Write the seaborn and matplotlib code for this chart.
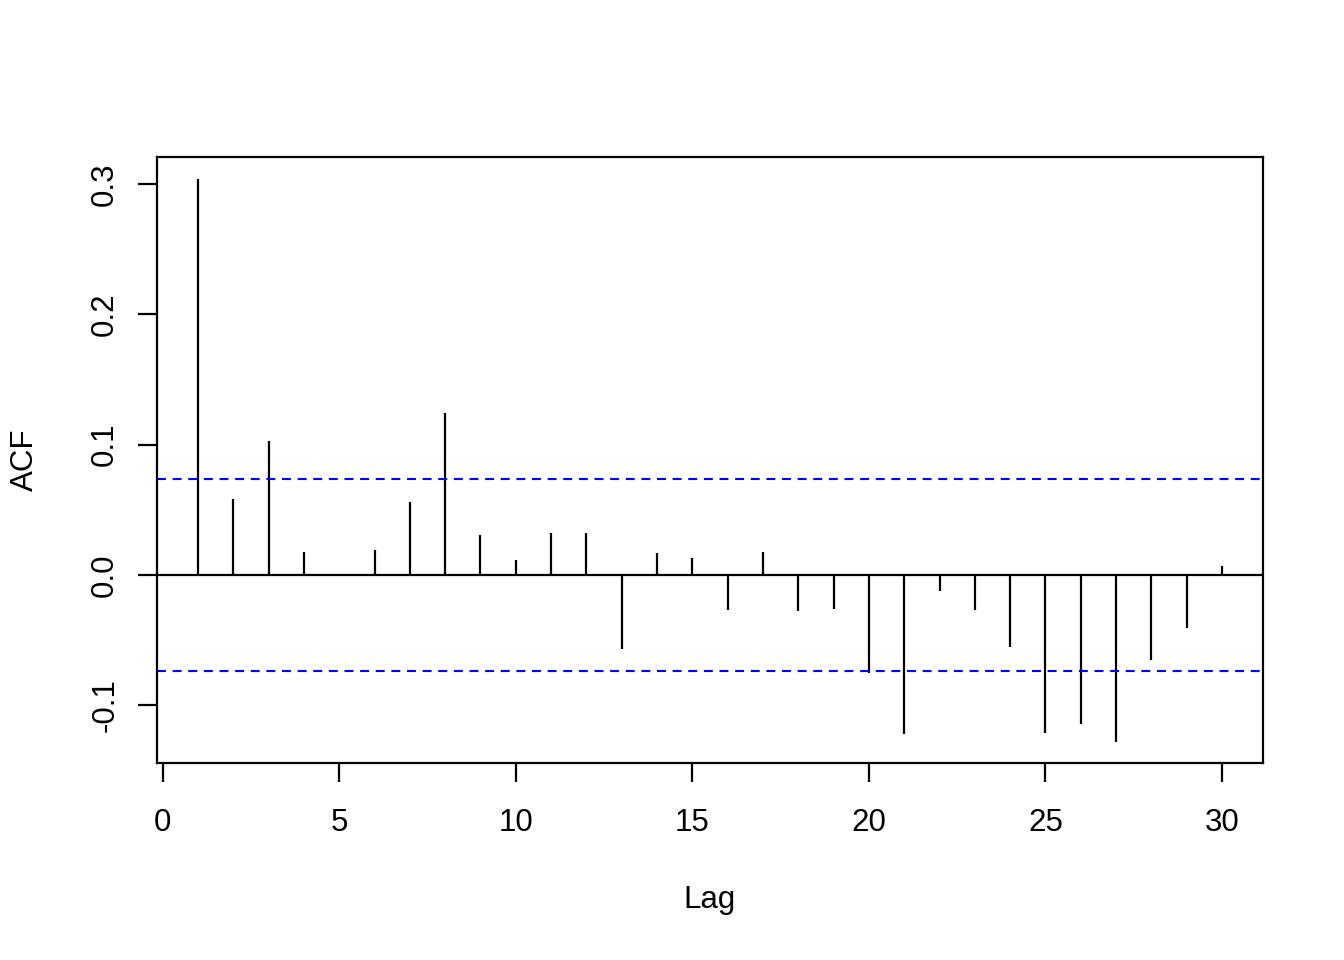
import numpy as np
import pandas as pd
import seaborn as sns
import matplotlib.pyplot as plt

# ACF values (lags 1..30)
lags = list(range(1, 31))
acf_vals = [0.304, 0.058, 0.103, 0.018, 0.001, 0.019, 0.056, 0.124, 0.031, 0.0115,
            0.032, 0.032, -0.057, 0.017, 0.013, -0.027, 0.018, -0.028, -0.026, -0.075,
            -0.122, -0.012, -0.027, -0.055, -0.121, -0.114, -0.128, -0.065, -0.041, 0.007]
ci = 0.0737
x_ticks = [0, 5, 10, 15, 20, 25, 30]
y_ticks = [-0.1, 0.0, 0.1, 0.2, 0.3]

df = pd.DataFrame({"Lag": lags, "ACF": acf_vals})

sns.set_theme(style="ticks")
plt.rcParams['font.family'] = ['Liberation Sans', 'DejaVu Sans']
plt.rcParams['text.color'] = 'black'

fig = plt.figure(figsize=(13.44, 9.6), dpi=100)
ax = fig.add_axes([157 / 1344, 1 - 763 / 960, (1263 - 157) / 1344, (763 - 157) / 960])

# stems
ax.vlines(df["Lag"], 0, df["ACF"], color="black", linewidth=1.6)
ax.axhline(0, color="black", linewidth=1.6)
# confidence band
for c in (ci, -ci):
    ax.axhline(c, color="blue", linewidth=1.5, linestyle=(0, (4.3, 3.2)))

ax.set_xlim(-0.16, 31.16)
ax.set_ylim(-0.1443, 0.3208)
ax.set_xticks(x_ticks)
ax.set_xticklabels([str(t) for t in x_ticks])
ax.set_yticks(y_ticks)
ax.set_yticklabels(["-0.1", "0.0", "0.1", "0.2", "0.3"])

for s in ax.spines.values():
    s.set_linewidth(1.6)
    s.set_color("black")
    s.set_visible(True)

ax.tick_params(axis="both", direction="out", length=13.5, width=1.6,
               color="black", labelsize=22.5, labelcolor="black")
ax.tick_params(axis="x", pad=19)
ax.tick_params(axis="y", pad=13)
plt.setp(ax.get_yticklabels(), rotation=90, va="center")

fig.text(710 / 1344, 1 - 900 / 960, "Lag", fontsize=22.5, ha="center", va="center",
         color="black")
fig.text(25 / 1344, 1 - 460 / 960, "ACF", fontsize=22.5, ha="center", va="center",
         rotation=90, color="black")

fig.savefig("out.png", dpi=100, facecolor="white")
